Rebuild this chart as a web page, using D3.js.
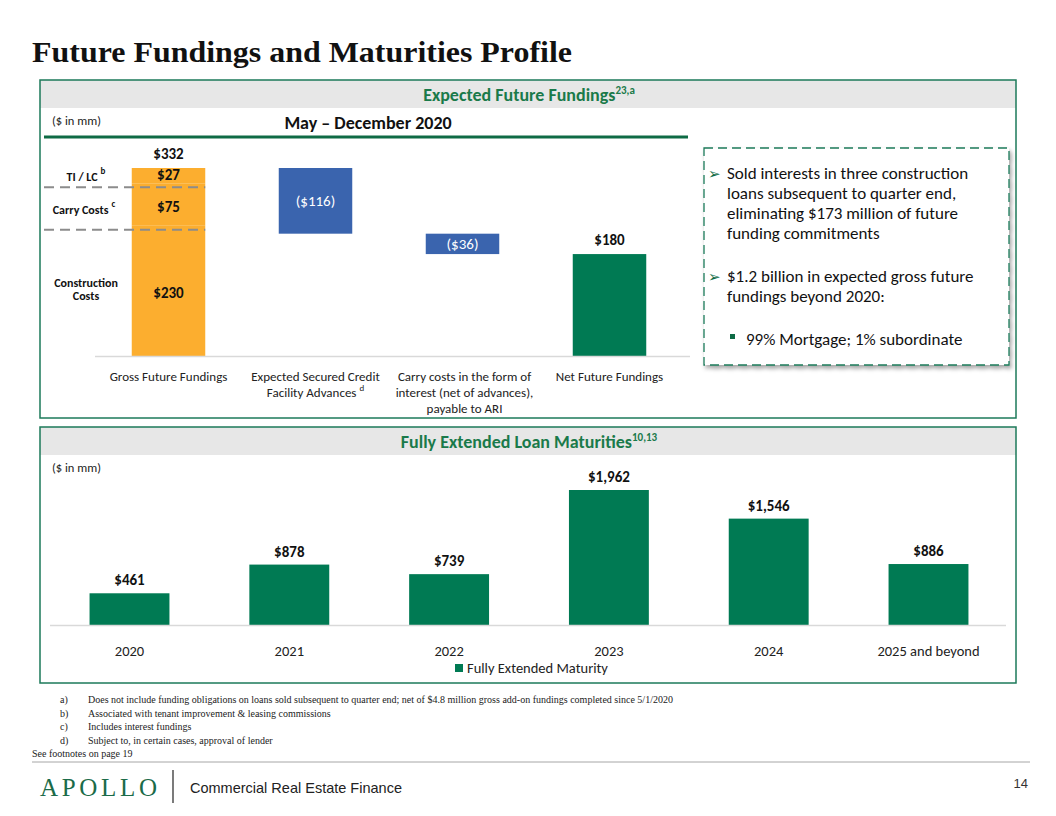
<!DOCTYPE html>
<html>
<head>
<meta charset="utf-8">
<script src="https://cdn.jsdelivr.net/npm/d3@7"></script>
<style>
  body { margin: 0; background: #fff; }
  svg { display: block; }
</style>
</head>
<body>
<div id="chart"></div>
<script>
// ---- data ----
const waterfallCats = ["gross", "advances", "carry", "net"];
const waterfallLabels = [
  ["Gross Future Fundings"],
  ["Expected Secured Credit", "Facility Advances"],
  ["Carry costs in the form of", "interest (net of advances),", "payable to ARI"],
  ["Net Future Fundings"]
];
const waterfallValues = [332, -116, -36, 180];
const grossSegNames = ["Construction Costs", "Carry Costs", "TI / LC"];
const grossSegValues = [230, 75, 27];
const grossSegNotes = ["", "c", "b"];

const maturityYears = ["2020", "2021", "2022", "2023", "2024", "2025 and beyond"];
const maturityValues = [461, 878, 739, 1962, 1546, 886];

const footnotes = [
  ["a)", "Does not include funding obligations on loans sold subsequent to quarter end; net of $4.8 million gross add-on fundings completed since 5/1/2020"],
  ["b)", "Associated with tenant improvement & leasing commissions"],
  ["c)", "Includes interest fundings"],
  ["d)", "Subject to, in certain cases, approval of lender"]
];

const W = 1056, H = 816;
const green = "#007a53";
const orange = "#fcae2f";
const blue = "#3a64ae";
const calibri = "Carlito, Lato, 'Open Sans', sans-serif";
const garamond = "'Liberation Serif', 'DejaVu Serif', serif";

const svg = d3.select("#chart").append("svg").attr("width", W).attr("height", H);

const defs = svg.append("defs");
defs.append("filter").attr("id", "shadow").attr("x", "-5%").attr("y", "-5%").attr("width", "115%").attr("height", "115%")
  .append("feDropShadow").attr("dx", 2).attr("dy", 3).attr("stdDeviation", 2)
  .attr("flood-color", "#000").attr("flood-opacity", 0.35);

// title
svg.append("text").attr("x", 32).attr("y", 62)
  .style("font-family", garamond).style("font-size", "30px").style("font-weight", "bold")
  .style("fill", "#111").attr("textLength", 540).attr("lengthAdjust", "spacingAndGlyphs")
  .text("Future Fundings and Maturities Profile");

// panel frames
function panel(y0, y1, title, sup) {
  svg.append("rect").attr("x", 40).attr("y", y0).attr("width", 976).attr("height", 28)
    .attr("fill", "#e7e7e7");
  svg.append("rect").attr("x", 40).attr("y", y0).attr("width", 976).attr("height", y1 - y0)
    .attr("fill", "none").attr("stroke", "#1d7a5a").attr("stroke-width", 1.5);
  const t = svg.append("text").attr("x", 529).attr("y", y0 + 21).attr("text-anchor", "middle")
    .style("font-family", calibri).style("font-size", "18px").style("font-weight", "bold")
    .style("fill", "#1a7a4a");
  t.append("tspan").text(title);
  t.append("tspan").attr("dy", -7).style("font-size", "11px").text(sup);
  svg.append("text").attr("x", 52).attr("y", y0 + 45)
    .style("font-family", calibri).style("font-size", "12.5px").style("fill", "#222")
    .text("($ in mm)");
}
panel(80, 418, "Expected Future Fundings", "23,a");
panel(427, 683, "Fully Extended Loan Maturities", "10,13");

// ---- waterfall ----
svg.append("text").attr("x", 368).attr("y", 129).attr("text-anchor", "middle")
  .style("font-family", calibri).style("font-size", "18px").style("font-weight", "bold")
  .style("fill", "#111").text("May – December 2020");
svg.append("line").attr("x1", 44).attr("x2", 688).attr("y1", 137).attr("y2", 137)
  .attr("stroke", "#0e6b45").attr("stroke-width", 3);

const xW = d3.scaleBand().domain(waterfallCats).range([95, 683]).paddingInner(0.5).paddingOuter(0.25);
const yW = d3.scaleLinear().domain([0, 332]).range([356, 168]);

// running totals for floating steps
let running = 0;
const steps = waterfallValues.map((v, i) => {
  let lo, hi;
  if (i === 0 || i === waterfallValues.length - 1) { lo = 0; hi = v; running = v; }
  else { hi = running; lo = running + v; running = lo; }
  return { cat: waterfallCats[i], v, lo, hi, i };
});

const gW = svg.append("g");

// gross bar as stack
const stack = [];
let acc = 0;
grossSegValues.forEach((v, i) => { stack.push({ name: grossSegNames[i], note: grossSegNotes[i], v, lo: acc, hi: acc + v }); acc += v; });

gW.selectAll("rect.seg").data(stack).join("rect").attr("class", "seg")
  .attr("x", xW("gross")).attr("width", xW.bandwidth())
  .attr("y", d => yW(d.hi)).attr("height", d => yW(d.lo) - yW(d.hi))
  .attr("fill", orange);

gW.selectAll("rect.step").data(steps.slice(1)).join("rect").attr("class", "step")
  .attr("x", d => xW(d.cat)).attr("width", xW.bandwidth())
  .attr("y", d => yW(d.hi)).attr("height", d => yW(d.lo) - yW(d.hi))
  .attr("fill", d => d.i === 3 ? green : blue);

// dashed separators between segments
gW.selectAll("line.sep").data(stack.slice(0, 2)).join("line").attr("class", "sep")
  .attr("x1", 44).attr("x2", xW("gross") + xW.bandwidth())
  .attr("y1", d => yW(d.hi) + 4).attr("y2", d => yW(d.hi) + 4)
  .attr("stroke", "#8c8c8c").attr("stroke-width", 2).attr("stroke-dasharray", "10,6");

const segY = (d, i) => i === 0 ? yW(d.v * 0.45) : yW((d.lo + d.hi) / 2) + 4 + (i === 1 ? 3 : 0);

gW.selectAll("text.segv").data(stack).join("text").attr("class", "segv")
  .attr("x", xW("gross") + xW.bandwidth() / 2)
  .attr("y", (d, i) => segY(d, i) + (i === 0 ? 1 : 0))
  .attr("text-anchor", "middle")
  .style("font-family", calibri).style("font-size", "15px").style("font-weight", "bold").style("fill", "#111")
  .text(d => "$" + d.v);

// segment names on left
const segLab = gW.selectAll("text.segn").data(stack).join("text").attr("class", "segn")
  .attr("text-anchor", "middle")
  .style("font-family", calibri).style("font-size", "12px").style("font-weight", "bold").style("fill", "#111");
segLab.each(function (d, i) {
  const t = d3.select(this);
  if (i === 0) {
    const y = segY(d, i) - 4;
    t.append("tspan").attr("x", 86).attr("y", y - 6).text("Construction");
    t.append("tspan").attr("x", 86).attr("y", y + 7).text("Costs");
  } else {
    const y = segY(d, i) + 1 + (i === 1 ? 1 : 0);
    t.attr("x", i === 1 ? 84 : 86).attr("y", y);
    t.append("tspan").text(d.name);
    t.append("tspan").attr("dx", 3).attr("dy", -7).style("font-size", "9px").text(d.note);
  }
});

// totals above
gW.selectAll("text.tot").data([steps[0], steps[3]]).join("text").attr("class", "tot")
  .attr("x", d => xW(d.cat) + xW.bandwidth() / 2).attr("y", d => yW(d.hi) - 9)
  .attr("text-anchor", "middle")
  .style("font-family", calibri).style("font-size", "15px").style("font-weight", "bold").style("fill", "#111")
  .text(d => "$" + d.v);

// negatives inside
gW.selectAll("text.neg").data(steps.slice(1, 3)).join("text").attr("class", "neg")
  .attr("x", d => xW(d.cat) + xW.bandwidth() / 2).attr("y", d => (yW(d.hi) + yW(d.lo)) / 2 + 5)
  .attr("text-anchor", "middle")
  .style("font-family", calibri).style("font-size", "15px").style("fill", "#fff")
  .text(d => "($" + (-d.v) + ")");

// axis baseline
gW.append("line").attr("x1", 95).attr("x2", 690).attr("y1", yW(0) + 0.5).attr("y2", yW(0) + 0.5)
  .attr("stroke", "#d9d9d9").attr("stroke-width", 1.5);

// category labels
gW.selectAll("text.cat").data(waterfallCats).join("text").attr("class", "cat")
  .attr("text-anchor", "middle")
  .style("font-family", calibri).style("font-size", "13px").style("fill", "#222")
  .each(function (c, i) {
    const t = d3.select(this);
    waterfallLabels[i].forEach((line, j) => {
      t.append("tspan").attr("x", xW(c) + xW.bandwidth() / 2 + (i === 2 ? 2 : 0)).attr("y", 381 + j * 16).text(line);
    });
    if (i === 1) {
      t.append("tspan").attr("dx", 3).attr("dy", -6).style("font-size", "9px").text("d");
    }
  });

// callout box
const cb = svg.append("g");
cb.append("rect").attr("x", 704).attr("y", 148).attr("width", 305).attr("height", 217)
  .attr("fill", "#fff").attr("stroke", "#1d7a5a").attr("stroke-width", 1.3)
  .attr("stroke-dasharray", "9,5").attr("filter", "url(#shadow)");
const bullets = [
  { y: 179, lines: ["Sold interests in three construction", "loans subsequent to quarter end,", "eliminating $173 million of future", "funding commitments"] },
  { y: 282, lines: ["$1.2 billion in expected gross future", "fundings beyond 2020:"] }
];
bullets.forEach(b => {
  cb.append("text").attr("x", 708).attr("y", b.y).style("font-size", "15px").style("fill", "#0e6b45")
    .style("font-family", "'DejaVu Sans', sans-serif").text("➢");
  const t = cb.append("text").style("font-family", calibri).style("font-size", "17px").style("fill", "#111");
  b.lines.forEach((l, j) => t.append("tspan").attr("x", 727).attr("y", b.y + j * 20).text(l));
});
cb.append("rect").attr("x", 730).attr("y", 334).attr("width", 5).attr("height", 5).attr("fill", "#0e6b45");
cb.append("text").attr("x", 746).attr("y", 345).style("font-family", calibri).style("font-size", "17px")
  .style("fill", "#111").text("99% Mortgage; 1% subordinate");

// ---- maturities ----
const xM = d3.scaleBand().domain(maturityYears).range([49.6, 1008.4]).paddingInner(0.5).paddingOuter(0.25);
const yM = d3.scaleLinear().domain([0, 1962]).range([625, 490]);
const gM = svg.append("g");

gM.selectAll("rect.mat").data(maturityValues).join("rect").attr("class", "mat")
  .attr("x", (d, i) => xM(maturityYears[i])).attr("width", xM.bandwidth())
  .attr("y", d => yM(d)).attr("height", d => yM(0) - yM(d))
  .attr("fill", green);

gM.selectAll("text.matv").data(maturityValues).join("text").attr("class", "matv")
  .attr("x", (d, i) => xM(maturityYears[i]) + xM.bandwidth() / 2).attr("y", d => yM(d) - 8)
  .attr("text-anchor", "middle")
  .style("font-family", calibri).style("font-size", "15px").style("font-weight", "bold").style("fill", "#111")
  .text(d => "$" + d3.format(",")(d));

gM.append("line").attr("x1", 50).attr("x2", 1006).attr("y1", yM(0) + 0.5).attr("y2", yM(0) + 0.5)
  .attr("stroke", "#d9d9d9").attr("stroke-width", 1.5);

const axM = gM.append("g").attr("transform", `translate(0,${yM(0)})`)
  .call(d3.axisBottom(xM).tickSize(0).tickPadding(21));
axM.select(".domain").remove();
axM.selectAll("text").style("font-family", calibri).style("font-size", "14.5px").style("fill", "#222");

gM.append("rect").attr("x", 455).attr("y", 664).attr("width", 8).attr("height", 8).attr("fill", green);
gM.append("text").attr("x", 467).attr("y", 673).style("font-family", calibri).style("font-size", "14.5px")
  .style("fill", "#222").text("Fully Extended Maturity");

// ---- footnotes ----
const fn = svg.append("g").style("font-family", garamond).style("font-size", "10px").style("fill", "#222");
fn.selectAll("text.fk").data(footnotes).join("text").attr("class", "fk")
  .attr("x", 60).attr("y", (d, i) => 703 + i * 13.7).text(d => d[0]);
fn.selectAll("text.ft").data(footnotes).join("text").attr("class", "ft")
  .attr("x", 88).attr("y", (d, i) => 703 + i * 13.7).text(d => d[1]);
fn.append("text").attr("x", 32).attr("y", 757).text("See footnotes on page 19");

svg.append("line").attr("x1", 32).attr("x2", 1030).attr("y1", 762).attr("y2", 762)
  .attr("stroke", "#a6a6a6").attr("stroke-width", 1);

// footer
svg.append("text").attr("x", 40).attr("y", 796).attr("textLength", 117).attr("lengthAdjust", "spacing")
  .style("font-family", garamond).style("font-size", "25px").style("fill", "#1b6b49").text("APOLLO");
svg.append("line").attr("x1", 173).attr("x2", 173).attr("y1", 770).attr("y2", 803)
  .attr("stroke", "#333").attr("stroke-width", 1.3);
svg.append("text").attr("x", 190).attr("y", 793)
  .style("font-family", "'Liberation Sans', Arial, sans-serif").style("font-size", "14.5px").style("fill", "#222")
  .text("Commercial Real Estate Finance");
svg.append("text").attr("x", 1028).attr("y", 788).attr("text-anchor", "end")
  .style("font-family", "'Liberation Sans', Arial, sans-serif").style("font-size", "13px").style("fill", "#333")
  .text("14");
</script>
</body>
</html>
